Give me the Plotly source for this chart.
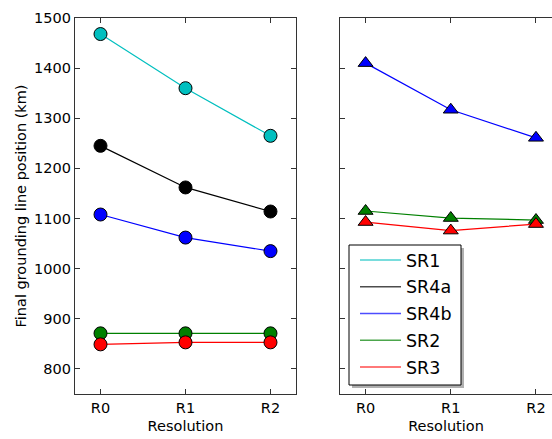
import plotly.graph_objects as go

resolutions = ["R0", "R1", "R2"]
series_names = ["SR1", "SR4a", "SR4b", "SR2", "SR3"]
series_colors = ["#00BFBF", "#000000", "#0000FF", "#008000", "#FF0000"]

# Left panel (circles)
left_SR1 = [1468, 1360, 1265]
left_SR4a = [1245, 1162, 1114]
left_SR4b = [1108, 1062, 1035]
left_SR2 = [871, 871, 871]
left_SR3 = [849, 853, 853]

# Right panel (triangles)
right_SR4b = [1410, 1317, 1261]
right_SR2 = [1115, 1101, 1097]
right_SR3 = [1093, 1076, 1089]

y_ticks = [800, 900, 1000, 1100, 1200, 1300, 1400, 1500]

FONT = "DejaVu Sans"
xs = list(range(len(resolutions)))

fig = go.Figure()

left_data = [left_SR1, left_SR4a, left_SR4b, left_SR2, left_SR3]
for name, color, vals in zip(series_names, series_colors, left_data):
    fig.add_trace(go.Scatter(
        x=xs, y=vals, mode="lines+markers", showlegend=False,
        line=dict(color=color, width=1.2),
        marker=dict(symbol="circle", size=13, color=color, line=dict(color="black", width=1)),
        xaxis="x", yaxis="y"))

right_data = {"SR4b": right_SR4b, "SR2": right_SR2, "SR3": right_SR3}
for name, color in zip(series_names, series_colors):
    if name in right_data:
        fig.add_trace(go.Scatter(
            x=xs, y=right_data[name], mode="lines+markers", showlegend=False,
            line=dict(color=color, width=1.2),
            marker=dict(symbol="triangle-up", size=13, color=color, line=dict(color="black", width=1)),
            xaxis="x2", yaxis="y2"))

# legend entries (lines only)
for i, (name, color) in enumerate(zip(series_names, series_colors)):
    fig.add_trace(go.Scatter(
        x=[None], y=[None], mode="lines", name=name, legendgroup=f"g{i}",
        line=dict(color=color, width=1.5), opacity=0.7,
        xaxis="x2", yaxis="y2"))

axis_common = dict(showline=True, linecolor="#333333", linewidth=1.3,
                   ticks="inside", ticklen=5, tickcolor="#333333",
                   showgrid=False, zeroline=False,
                   tickfont=dict(family=FONT, size=14.5, color="black"))

W_PLOT = 552 - 75
H_PLOT = 439 - 18 - 45


def px_x(px):
    return (px - 75) / W_PLOT


def px_y(py):
    return (394 - py) / H_PLOT


box_x0, box_x1, box_y0, box_y1 = 349, 461, 245, 385

fig.update_layout(
    width=552, height=439,
    margin=dict(l=75, r=0, t=18, b=45),
    plot_bgcolor="white", paper_bgcolor="white",
    font=dict(family=FONT, color="black"),
    xaxis=dict(domain=[0, 0.4633], range=[-0.3, 2.3], tickvals=xs, ticktext=resolutions,
               mirror="ticks",
               title=dict(text="Resolution", font=dict(family=FONT, size=14.5), standoff=6),
               **axis_common),
    yaxis=dict(domain=[0, 1], range=[750, 1500], tickvals=y_ticks, mirror="ticks",
               title=dict(text="Final grounding line position (km)", font=dict(family=FONT, size=14.5), standoff=3),
               **axis_common),
    xaxis2=dict(domain=[0.5556, 1], range=[-0.3, 2.188], tickvals=xs, ticktext=resolutions,
                mirror="ticks", anchor="y2",
                title=dict(text="Resolution", font=dict(family=FONT, size=14.5), standoff=6),
                **axis_common),
    yaxis2=dict(domain=[0, 1], range=[750, 1500], tickvals=y_ticks, showticklabels=False,
                anchor="x2", mirror=False, **axis_common),
    legend=dict(x=px_x(355), y=px_y(242), xanchor="left", yanchor="top",
                bgcolor="rgba(0,0,0,0)", borderwidth=0,
                font=dict(family=FONT, size=17.5), tracegroupgap=1,
                traceorder="grouped", itemwidth=41),
    shapes=[
        dict(type="rect", xref="paper", yref="paper",
             x0=px_x(box_x0 + 3), x1=px_x(box_x1 + 3),
             y0=px_y(box_y1 + 3), y1=px_y(box_y0 + 3),
             fillcolor="#b0b0b0", line=dict(width=0), layer="above"),
        dict(type="rect", xref="paper", yref="paper",
             x0=px_x(box_x0), x1=px_x(box_x1),
             y0=px_y(box_y1), y1=px_y(box_y0),
             fillcolor="white", line=dict(color="black", width=1), layer="above"),
    ],
)

fig.write_html("out.html")
